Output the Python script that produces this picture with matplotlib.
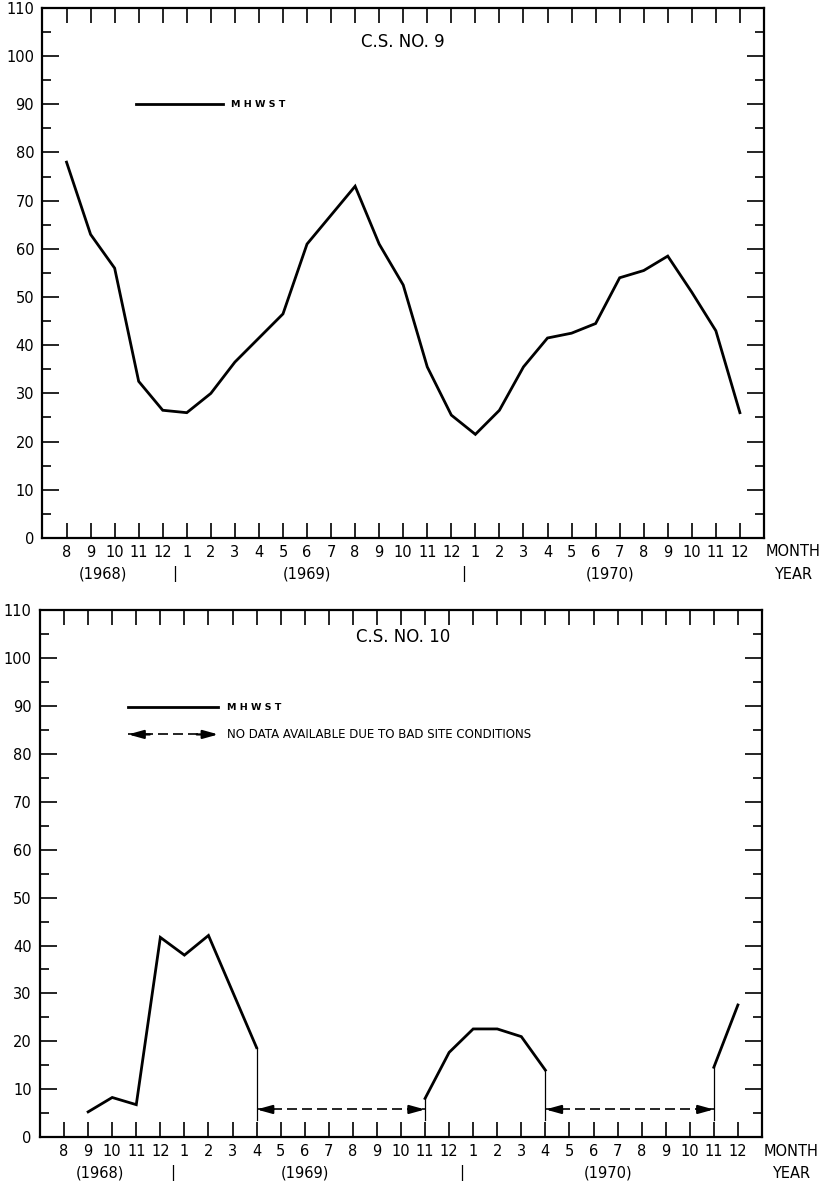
import matplotlib
matplotlib.use("Agg")
import matplotlib.pyplot as plt
from matplotlib.ticker import MultipleLocator
import numpy as np

plt.rcParams["font.family"] = ["DejaVu Sans"]

# months Aug 1968 .. Dec 1970
month_labels = ["8", "9", "10", "11", "12",
                "1", "2", "3", "4", "5", "6", "7", "8", "9", "10", "11", "12",
                "1", "2", "3", "4", "5", "6", "7", "8", "9", "10", "11", "12"]
year_labels = ["(1968)", "|", "(1969)", "|", "(1970)"]
year_label_pos = [1.5, 4.5, 10.0, 16.5, 22.6]

# C.S. No. 9 - MHWST
cs9_values = [78, 63, 56, 32.5, 26.5,
              26, 30, 36.5, 41.5, 46.5, 61, 67, 73, 61, 52.5, 35.5, 25.5,
              21.5, 26.5, 35.5, 41.5, 42.5, 44.5, 54, 55.5, 58.5, 51, 43, 26]

# C.S. No. 10 - MHWST (nan = no data)
nan = np.nan
cs10_values = [nan, 5.3, 8.3, 6.8, 41.7,
               38, 42.1, 30.4, 18.7, nan, nan, nan, nan, nan, nan, 8.1, 17.7,
               22.6, 22.6, 21, 14, nan, nan, nan, nan, nan, nan, 14.6, 27.6]
# no-data periods (start index, end index) and arrow level
cs10_gaps = [(8, 15), (20, 27)]
gap_level = 5.8

x = np.arange(len(month_labels))

fig = plt.figure(figsize=(8.25, 11.87), dpi=100)
ax1 = fig.add_axes([0.0515, 0.5468, 0.8745, 0.4465])
ax2 = fig.add_axes([0.0485, 0.0419, 0.8751, 0.4442])


def style_axes(ax):
    ax.set_xlim(-1, len(month_labels))
    ax.set_ylim(0, 110)
    ax.set_xticks(x)
    ax.set_xticklabels(month_labels, fontsize=10.5)
    ax.yaxis.set_major_locator(MultipleLocator(10))
    ax.yaxis.set_minor_locator(MultipleLocator(5))
    ax.tick_params(axis="x", which="major", direction="in", top=True, bottom=True,
                   length=11, width=1.2, pad=5)
    ax.tick_params(axis="y", which="major", direction="in", left=True, right=True,
                   length=12.5, width=1.2, pad=6, labelsize=10.5)
    ax.tick_params(axis="y", which="minor", direction="in", left=True, right=True,
                   length=6.5, width=1.2)
    for s in ax.spines.values():
        s.set_linewidth(1.6)
    for pos, lab in zip(year_label_pos, year_labels):
        ax.annotate(lab, xy=(pos, 0), xycoords=ax.get_xaxis_transform(),
                    xytext=(0, -26), textcoords="offset points",
                    ha="center", va="center", fontsize=10.5)
    ax.annotate("MONTH", xy=(1, 0), xycoords="axes fraction", xytext=(21, -10),
                textcoords="offset points", ha="center", va="center", fontsize=10.5)
    ax.annotate("YEAR", xy=(1, 0), xycoords="axes fraction", xytext=(21, -26),
                textcoords="offset points", ha="center", va="center", fontsize=10.5)


def dashed_arrow(ax, x0, x1, y, transform, head=0.7):
    ax.plot([x0, x1], [y, y], color="black", lw=1.2, linestyle=(0, (6, 3)),
            transform=transform, clip_on=False)
    for tip, tail in [(x0, x0 + head), (x1, x1 - head)]:
        ax.annotate("", xy=(tip, y), xycoords=transform, xytext=(tail, y),
                    textcoords=transform,
                    arrowprops=dict(arrowstyle="-|>,head_length=0.9,head_width=0.25",
                                    color="black", lw=1.6, shrinkA=0, shrinkB=0))


# top panel
style_axes(ax1)
ax1.plot(x, cs9_values, color="black", lw=2.0, solid_joinstyle="miter")
ax1.text(0.5, 0.936, "C.S. NO. 9", transform=ax1.transAxes, ha="center", va="center",
         fontsize=12)
ax1.plot([0.129, 0.250], [0.818, 0.818], color="black", lw=2.0, transform=ax1.transAxes)
ax1.text(0.261, 0.818, "M H W S T", transform=ax1.transAxes, ha="left", va="center",
         fontsize=6.8, fontweight="bold")

# bottom panel
style_axes(ax2)
ax2.plot(x, cs10_values, color="black", lw=2.0, solid_joinstyle="miter")
vals = np.array(cs10_values)
for g0, g1 in cs10_gaps:
    for gi in (g0, g1):
        ax2.plot([gi, gi], [3.5, vals[gi]], color="black", lw=0.9)
    dashed_arrow(ax2, g0, g1, gap_level, ax2.transData)
ax2.text(0.503, 0.949, "C.S. NO. 10", transform=ax2.transAxes, ha="center", va="center",
         fontsize=12)
ax2.plot([0.122, 0.247], [0.816, 0.816], color="black", lw=2.0, transform=ax2.transAxes)
ax2.text(0.259, 0.816, "M H W S T", transform=ax2.transAxes, ha="left", va="center",
         fontsize=6.8, fontweight="bold")
dashed_arrow(ax2, 0.122, 0.247, 0.764, ax2.transAxes, head=0.03)
ax2.text(0.259, 0.764, "NO DATA AVAILABLE DUE TO BAD SITE CONDITIONS",
         transform=ax2.transAxes, ha="left", va="center", fontsize=8.5)

plt.savefig("out.png", dpi=100)
